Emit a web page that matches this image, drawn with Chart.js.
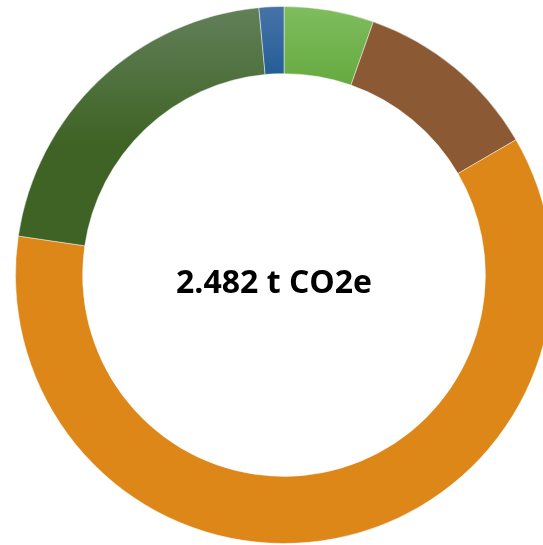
<!DOCTYPE html>
<html>
<head>
<meta charset="utf-8">
<style>
  html, body { margin: 0; padding: 0; background: #fff; overflow: hidden; }
  #wrap { width: 543px; height: 545px; overflow: hidden; }
  canvas { display: block; }
</style>
<script src="https://cdn.jsdelivr.net/npm/chart.js@4/dist/chart.umd.min.js"></script>
</head>
<body>
<div id="wrap"><canvas id="co2Chart" width="568" height="550"></canvas></div>
<script>
// emissions per category, in tonnes CO2e (clockwise from the top)
const categories = ['Category 1', 'Category 2', 'Category 3', 'Category 4', 'Category 5'];
const values = [0.134, 0.278, 1.507, 0.526, 0.037];
const totalLabel = '2.482 t CO2e';

// top / bottom colours of each segment's gradient
const topColors = ['#7fbd5e', '#8b5a35', '#dd8719', '#62805a', '#4673a8'];
const bottomColors = ['#63a83d', '#8b5a35', '#dd8719', '#3e6324', '#1c5892'];

function segmentFill(context) {
    const chart = context.chart;
    const area = chart.chartArea;
    const i = context.dataIndex;
    if (!area) return bottomColors[i];
    const ctx = chart.ctx;
    const top = area.top;
    const h = area.bottom - area.top;
    let g;
    if (i === 3) {
        g = ctx.createLinearGradient(0, top, 0, top + h * 0.26);
    } else {
        g = ctx.createLinearGradient(0, top, 0, top + h * 0.16);
    }
    g.addColorStop(0, topColors[i]);
    g.addColorStop(1, bottomColors[i]);
    return g;
}

const centerText = {
    id: 'centerText',
    afterDraw(chart) {
        const meta = chart.getDatasetMeta(0).data[0];
        if (!meta) return;
        const ctx = chart.ctx;
        ctx.save();
        ctx.font = 'bold 32px "Open Sans", "Noto Sans", sans-serif';
        ctx.fillStyle = '#000';
        ctx.textAlign = 'center';
        ctx.textBaseline = 'middle';
        ctx.fillText(totalLabel, meta.x - 10, meta.y + 9);
        ctx.restore();
    }
};

new Chart(document.getElementById('co2Chart'), {
    type: 'doughnut',
    data: {
        labels: categories,
        datasets: [{
            data: values,
            backgroundColor: segmentFill,
            borderColor: 'rgba(255,255,255,0.45)',
            borderWidth: 1
        }]
    },
    options: {
        responsive: false,
        animation: false,
        cutout: '75%',
        layout: { padding: { top: 6, bottom: 6 } },
        plugins: {
            legend: { display: false },
            tooltip: { enabled: false }
        }
    },
    plugins: [centerText]
});
</script>
</body>
</html>
